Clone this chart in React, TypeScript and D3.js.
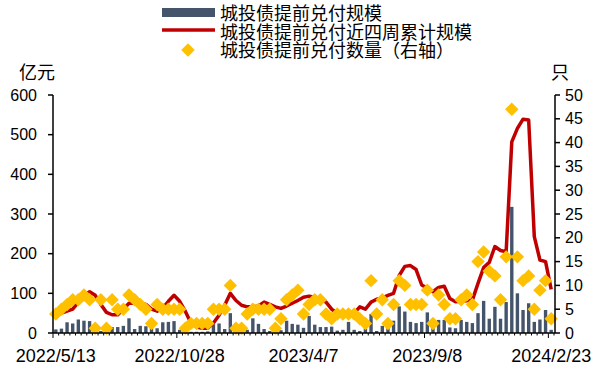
import React from 'react';
import { scaleBand, scaleLinear, line, symbol, symbolSquare, range } from 'd3';

// weekly observation dates (holiday weeks missing in the source)
const dates = [
    '2022/5/13', '2022/5/20', '2022/5/27', '2022/6/10', '2022/6/17', '2022/6/24', '2022/7/1', '2022/7/8', '2022/7/15', '2022/7/22',
    '2022/7/29', '2022/8/5', '2022/8/12', '2022/8/19', '2022/8/26', '2022/9/2', '2022/9/9', '2022/9/16', '2022/9/23', '2022/9/30',
    '2022/10/14', '2022/10/21', '2022/10/28', '2022/11/4', '2022/11/11', '2022/11/18', '2022/11/25', '2022/12/2', '2022/12/9', '2022/12/16',
    '2022/12/23', '2022/12/30', '2023/1/6', '2023/1/13', '2023/1/20', '2023/2/3', '2023/2/10', '2023/2/17', '2023/2/24', '2023/3/3',
    '2023/3/10', '2023/3/17', '2023/3/24', '2023/3/31', '2023/4/7', '2023/4/14', '2023/4/21', '2023/4/28', '2023/5/5', '2023/5/12',
    '2023/5/19', '2023/5/26', '2023/6/2', '2023/6/9', '2023/6/16', '2023/6/23', '2023/6/30', '2023/7/7', '2023/7/14', '2023/7/21',
    '2023/7/28', '2023/8/4', '2023/8/11', '2023/8/18', '2023/8/25', '2023/9/1', '2023/9/8', '2023/9/15', '2023/9/22', '2023/9/29',
    '2023/10/13', '2023/10/20', '2023/10/27', '2023/11/3', '2023/11/10', '2023/11/17', '2023/11/24', '2023/12/1', '2023/12/8', '2023/12/15',
    '2023/12/22', '2023/12/29', '2024/1/5', '2024/1/12', '2024/1/19', '2024/1/26', '2024/2/2', '2024/2/9', '2024/2/23'
];

// 城投债提前兑付规模 (亿元)
const weeklyAmount = [
    9, 11, 27, 24, 34, 31, 30, 6, 5, 12,
    15, 15, 18, 37, 10, 18, 17, 25, 12, 27,
    28, 30, 8, 4, 3, 3, 3, 4, 22, 24,
    10, 50, 6, 10, 8, 37, 23, 10, 5, 8,
    7, 31, 23, 21, 13, 43, 21, 15, 15, 16,
    6, 8, 28, 8, 5, 12, 48, 5, 18, 20,
    31, 67, 54, 28, 25, 28, 52, 18, 33, 33,
    14, 12, 33, 28, 25, 50, 81, 36, 66, 36,
    78, 318, 100, 58, 75, 28, 34, 58, 8
];

// 城投债提前兑付近四周累计规模 (亿元)
const rolling4w = [
    45, 50, 55, 60, 78, 95, 104, 95, 72, 52,
    46, 46, 60, 75, 75, 75, 72, 60, 55, 63,
    80, 95, 80, 55, 25, 15, 12, 12, 25, 45,
    70, 100, 82, 70, 66, 66, 68, 78, 72, 66,
    62, 68, 75, 82, 90, 93, 90, 85, 78, 60,
    50, 46, 46, 50, 66, 60, 78, 85, 88, 95,
    100, 145, 168, 170, 160, 121, 113, 104, 115, 118,
    87, 79, 80, 81, 83, 125, 165, 178, 218, 208,
    205, 482, 516, 539, 537, 243, 184, 180, 110
];

// 城投债提前兑付数量 (只, 右轴)
const weeklyCount = [
    4, 5, 6, 7, 7, 8, 7, 1, 7, 1,
    7, 5, 5, 8, 7, 6, 5, 2, 6, 5,
    5, 5, 5, 1, 2, 2, 2, 2, 5, 5,
    5, 10, 1, 1, 4, 5, 5, 5, 5, 1,
    3, 7, 8, 9, 4, 6, 7, 7, 4, 3,
    4, 4, 4, 4, 3, 2, 11, 4, 7, 2,
    6, 11, 10, 6, 6, 6, 9, 2, 8, 6,
    3, 3, 7, 8, 6, 15, 17, 13, 12, 7,
    16, 47, 16, 11, 12, 5, 9, 11, 3
];

const leftTicks = [0, 100, 200, 300, 400, 500, 600];
const rightTicks = [0, 5, 10, 15, 20, 25, 30, 35, 40, 45, 50];
const labelEvery = 22;

const legendNames = ['城投债提前兑付规模', '城投债提前兑付近四周累计规模', '城投债提前兑付数量（右轴）'];

const BAR = '#44546A';
const RED = '#C00000';
const GOLD = '#FFC000';
const numFont = '"Liberation Sans", Arial, sans-serif';
const cjkFont = '"Noto Sans CJK SC", "Liberation Sans", sans-serif';

const App = () => {
    let svgWidth = 593;
    let svgHeight = 369;
    let margin = { top: 95, right: 554, bottom: 333, left: 53 };

    let x = scaleBand<string>().domain(dates).range([margin.left, margin.right]).paddingInner(0).paddingOuter(0);
    let yL = scaleLinear().domain([0, 600]).range([margin.bottom, margin.top]);
    let yR = scaleLinear().domain([0, 50]).range([margin.bottom, margin.top]);
    let step = x.step();
    let bw = step * 0.6;
    let cx = (d: string) => (x(d) as number) + step / 2;

    let linefunc = line<number>().x((d, i) => cx(dates[i])).y(d => yL(d));
    let diamond = symbol().type(symbolSquare).size(90)();

    return (
        <svg width={svgWidth} height={svgHeight} style={{ position: 'absolute', left: 0, top: 0, background: '#fff' }}>
            {/* legend */}
            <g>
                <rect x={162} y={8} width={53} height={9} fill={BAR} />
                <line x1={162} x2={215} y1={30} y2={30} stroke={RED} strokeWidth={3.5} />
                <path d={diamond} transform='translate(188,50) rotate(45)' fill={GOLD} />
                {legendNames.map((n, i) =>
                    <text key={n} x={220} y={12 + i * 18.5} dominantBaseline='central' fontSize={18} fontFamily={cjkFont} fill='#000'>{n}</text>
                )}
            </g>

            {/* axis titles */}
            <text x={19} y={71} dominantBaseline='central' fontSize={18} fontFamily={cjkFont}>亿元</text>
            <text x={560} y={71} dominantBaseline='central' textAnchor='middle' fontSize={18} fontFamily={cjkFont}>只</text>

            {/* bars */}
            <g>
                {weeklyAmount.map((v, i) =>
                    <rect key={i} x={cx(dates[i]) - bw / 2} y={yL(v)} width={bw} height={yL(0) - yL(v)} fill={BAR} />
                )}
            </g>

            {/* rolling line */}
            <path d={linefunc(rolling4w) as string} fill='none' stroke={RED} strokeWidth={3.5} strokeLinejoin='round' />

            {/* count markers */}
            <g>
                {weeklyCount.map((v, i) =>
                    <path key={i} d={diamond} transform={`translate(${cx(dates[i])},${yR(v)}) rotate(45)`} fill={GOLD} />
                )}
            </g>

            {/* left axis */}
            <g>
                <line x1={margin.left} x2={margin.left} y1={yL(600)} y2={yL(0)} stroke='#000' strokeWidth={1.5} />
                {leftTicks.map(t =>
                    <g key={t}>
                        <line x1={margin.left - 5} x2={margin.left} y1={yL(t)} y2={yL(t)} stroke='#000' strokeWidth={1.5} />
                        <text x={37} y={yL(t)} textAnchor='end' dominantBaseline='central' fontSize={16} fontFamily={numFont}>{t}</text>
                    </g>
                )}
            </g>

            {/* right axis */}
            <g>
                <line x1={555} x2={555} y1={yR(50)} y2={yR(0)} stroke='#000' strokeWidth={1.5} />
                {rightTicks.map(t =>
                    <g key={t}>
                        <line x1={555} x2={560} y1={yR(t)} y2={yR(t)} stroke='#000' strokeWidth={1.5} />
                        <text x={565} y={yR(t)} dominantBaseline='central' fontSize={16} fontFamily={numFont}>{t}</text>
                    </g>
                )}
            </g>

            {/* bottom axis */}
            <g>
                <line x1={margin.left} x2={555} y1={yL(0)} y2={yL(0)} stroke='#000' strokeWidth={1.5} />
                {range(dates.length + 1).map(i =>
                    <line key={i} x1={margin.left + i * step} x2={margin.left + i * step} y1={yL(0)}
                        y2={yL(0) + (i % labelEvery === 0 ? 5 : 2.5)} stroke='#000' strokeWidth={1} />
                )}
                {dates.filter((d, i) => i % labelEvery === 0).map(d =>
                    <text key={d} x={cx(d)} y={356} textAnchor='middle' dominantBaseline='central' fontSize={18} fontFamily={numFont}>{d}</text>
                )}
            </g>
        </svg>
    );
}

export default App;
